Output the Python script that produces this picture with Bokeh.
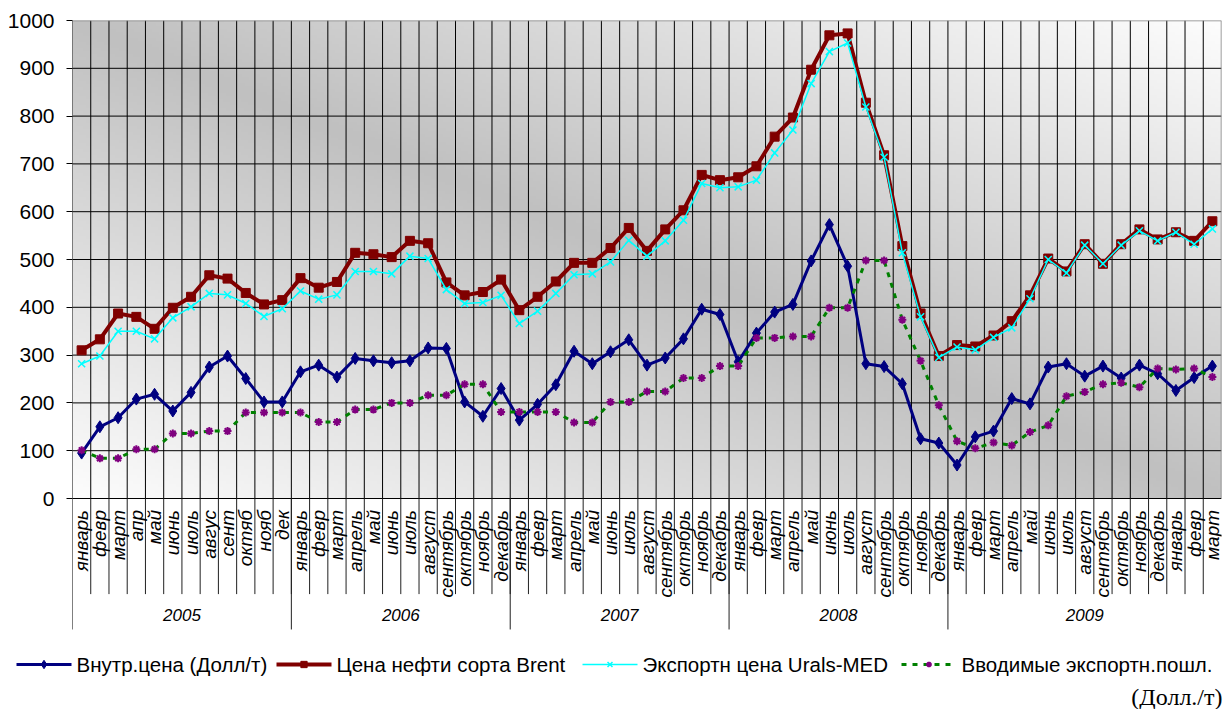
import numpy as np
from bokeh.plotting import figure
from bokeh.models import Range1d, FixedTicker
from bokeh.core.properties import value
from bokeh.embed import file_html
from bokeh.resources import INLINE

# ---------------- data ----------------
months = [
    "январь", "февр", "март", "апр", "май", "июнь", "июль", "авгус", "сент", "октяб", "нояб", "дек",
    "январь", "февр", "март", "апрель", "май", "июнь", "июль", "август", "сентябрь", "октябрь", "ноябрь", "декабрь",
    "январь", "февр", "март", "апрель", "май", "июнь", "июль", "август", "сентябрь", "октябрь", "ноябрь", "декабрь",
    "январь", "февр", "март", "апрель", "май", "июнь", "июль", "август", "сентябрь", "октябрь", "ноябрь", "декабрь",
    "январь", "февр", "март", "апрель", "май", "июнь", "июль", "август", "сентябрь", "октябрь", "ноябрь", "декабрь",
    "январь", "февр", "март",
]
years = ["2005", "2006", "2007", "2008", "2009"]
year_lengths = [12, 12, 12, 12, 15]

inner_price = [
    95, 150, 169, 208, 218, 183, 222, 275, 298, 251, 202, 202,
    265, 279, 254, 293, 288, 284, 288, 315, 314, 202, 172, 230,
    164, 197, 238, 308, 282, 307, 332, 279, 294, 334, 396, 385,
    286, 346, 390, 406, 497, 573, 486, 282, 276, 240, 125, 116,
    70, 129, 141, 209, 198, 275, 282, 256, 277, 252, 279, 261, 226, 253, 277,
]
brent = [
    310, 333, 387, 380, 355, 399, 422, 467, 460, 430, 406, 415,
    461, 441, 453, 514, 511, 505, 539, 534, 452, 425, 432, 458,
    394, 422, 454, 493, 493, 524, 566, 518, 563, 603, 677, 666,
    672, 695, 757, 797, 897, 969, 973, 828, 718, 528, 387, 298,
    321, 318, 341, 371, 425, 502, 475, 532, 491, 532, 563, 542, 557, 539, 580,
]
urals = [
    282, 298, 350, 350, 334, 378, 401, 429, 426, 408, 381, 397,
    434, 417, 426, 475, 475, 470, 507, 502, 437, 408, 410, 425,
    366, 392, 429, 468, 470, 495, 540, 507, 539, 582, 659, 650,
    652, 666, 723, 771, 868, 935, 953, 819, 714, 514, 380, 295,
    317, 311, 337, 357, 418, 500, 472, 530, 491, 530, 560, 539, 557, 532, 564,
]
duty = [
    101, 84, 84, 103, 103, 136, 136, 141, 141, 180, 180, 180,
    180, 160, 160, 186, 186, 200, 200, 216, 216, 239, 239, 181,
    181, 181, 181, 159, 159, 202, 202, 224, 224, 252, 252, 277,
    277, 336, 336, 339, 339, 399, 399, 498, 498, 374, 288, 195,
    120, 105, 117, 111, 139, 153, 214, 223, 239, 242, 233, 272, 270, 272, 254,
]
y_ticks = [0, 100, 200, 300, 400, 500, 600, 700, 800, 900, 1000]
unit_label = "(Долл./т)"
series_names = ["Внутр.цена (Долл/т)", "Цена нефти  сорта Brent",
                "Экспортн цена Urals-MED", "Вводимые экспортн.пошл."]

# ---------------- styles ----------------
styles = [
    dict(line_color="#000080", line_width=3, line_dash="solid", marker="diamond", size=12,
         m_fill="#000080", m_line="#000080", m_width=1),
    dict(line_color="#800000", line_width=4, line_dash="solid", marker="square", size=9,
         m_fill="#800000", m_line="#800000", m_width=1),
    dict(line_color="#00FFFF", line_width=1.5, line_dash="solid", marker="x", size=10,
         m_fill=None, m_line="#00FFFF", m_width=1.5),
    dict(line_color="#008000", line_width=3, line_dash="5 6", marker="asterisk", size=8,
         m_fill=None, m_line="#800080", m_width=2),
]
series_values = [inner_price, brent, urals, duty]

FONT = value("Liberation Sans")

# ---------------- main chart ----------------
n = len(months)
xs = [i + 0.5 for i in range(n)]
W = 1223
H1 = 639
FL, FT, FR, FB = 72, 20, 2, 0
frame_h = H1 - FT - FB
px_per_unit = 478 / 1000.0
y_min = 1000 - frame_h / px_per_unit

p = figure(width=W, height=H1, output_backend="svg", toolbar_location=None,
           x_range=Range1d(0, n), y_range=Range1d(y_min, 1000),
           x_axis_location=None, title=None,
           min_border_left=FL, min_border_top=FT, min_border_right=FR,
           min_border_bottom=FB)
p.outline_line_color = None
p.grid.visible = False
p.background_fill_color = "white"
p.border_fill_color = "white"

ax = p.yaxis[0]
ax.ticker = FixedTicker(ticks=y_ticks, minor_ticks=[])
ax.axis_line_color = None
ax.major_tick_out = 6
ax.major_tick_in = 0
ax.major_tick_line_color = "black"
ax.minor_tick_line_color = None
ax.major_label_standoff = 12
ax.major_label_text_font = "Liberation Sans"
ax.major_label_text_font_size = "21px"
ax.major_label_text_color = "black"

# background gradient (style only)
nx, ny = 320, 160
fx = np.linspace(0, 1, nx)[None, :]
fy_top = np.linspace(1, 0, ny)[:, None]
v = np.abs(fx - fy_top)
g = (192 + 61 * v).astype(np.uint8)
img = np.empty((ny, nx), dtype=np.uint32)
view = img.view(dtype=np.uint8).reshape((ny, nx, 4))
view[..., 0] = g
view[..., 1] = g
view[..., 2] = g
view[..., 3] = 255
p.image_rgba(image=[img], x=0, y=0, dw=n, dh=1000, level="image")

# grid lines
inner_bounds = list(range(1, n))
p.segment(x0=inner_bounds, y0=0, x1=inner_bounds, y1=1000, line_color="black", line_width=1)
p.segment(x0=0, y0=y_ticks[1:-1], x1=n, y1=y_ticks[1:-1], line_color="black", line_width=1)
p.segment(x0=[0, n], y0=[1000, 0], x1=[n, n], y1=[1000, 1000], line_color="#808080", line_width=1.5)
p.segment(x0=[0], y0=[0], x1=[n], y1=[0], line_color="black", line_width=1)

# category axis drawn below
p.segment(x0=inner_bounds, y0=0, x1=inner_bounds, y1=-200, line_color="#202020", line_width=1)
year_edges = list(np.cumsum(year_lengths)[:-1])
p.segment(x0=year_edges, y0=0, x1=year_edges, y1=-274, line_color="#202020", line_width=1)
p.segment(x0=[0], y0=[-274], x1=[0], y1=[1000], line_color="black", line_width=1)

p.text(x=xs, y=-24, text=months, angle=np.pi / 2, text_align="right",
       text_baseline="middle", text_font=FONT, text_font_style="italic",
       text_font_size="19px", text_color="black")
starts = np.concatenate([[0], np.cumsum(year_lengths)[:-1]])
year_centers = [s + l / 2 for s, l in zip(starts, year_lengths)]
p.text(x=year_centers, y=-243, text=years, text_align="center", text_baseline="middle",
       text_font=FONT, text_font_style="italic", text_font_size="17px", text_color="black")

# series
for vals, st in zip(series_values, styles):
    p.line(xs, vals, line_color=st["line_color"], line_width=st["line_width"],
           line_dash=st["line_dash"])
    p.scatter(xs, vals, marker=st["marker"], size=st["size"], fill_color=st["m_fill"],
              line_color=st["m_line"], line_width=st["m_width"])

# ---------------- legend strip (separate root, no frame alignment) ----------------
H2 = 70
q = figure(width=W, height=H2, output_backend="svg", toolbar_location=None,
           x_range=Range1d(0, W), y_range=Range1d(0, H2),
           x_axis_location=None, y_axis_location=None, title=None,
           min_border_left=0, min_border_top=0, min_border_right=0, min_border_bottom=0)
q.outline_line_color = None
q.grid.visible = False
q.background_fill_color = "white"
q.border_fill_color = "white"

legend_x0 = [16, 276, 582, 901]
glyph_w = 55
leg_y = 45
for x0, name, st in zip(legend_x0, series_names, styles):
    q.segment(x0=[x0], y0=[leg_y], x1=[x0 + glyph_w], y1=[leg_y], line_color=st["line_color"],
              line_width=st["line_width"], line_dash=st["line_dash"])
    q.scatter(x=[x0 + glyph_w / 2], y=[leg_y], marker=st["marker"], size=st["size"] * 0.7,
              fill_color=st["m_fill"], line_color=st["m_line"], line_width=st["m_width"])
    q.text(x=[x0 + glyph_w + 5], y=[leg_y], text=[name], text_align="left",
           text_baseline="middle", text_font=FONT, text_font_size="20.5px", text_color="black")

q.text(x=[W - 1], y=[13], text=[unit_label], text_align="right", text_baseline="middle",
       text_font=value("Liberation Serif"), text_font_size="24px", text_color="black")

open("out.html", "w").write(file_html([p, q], INLINE))
